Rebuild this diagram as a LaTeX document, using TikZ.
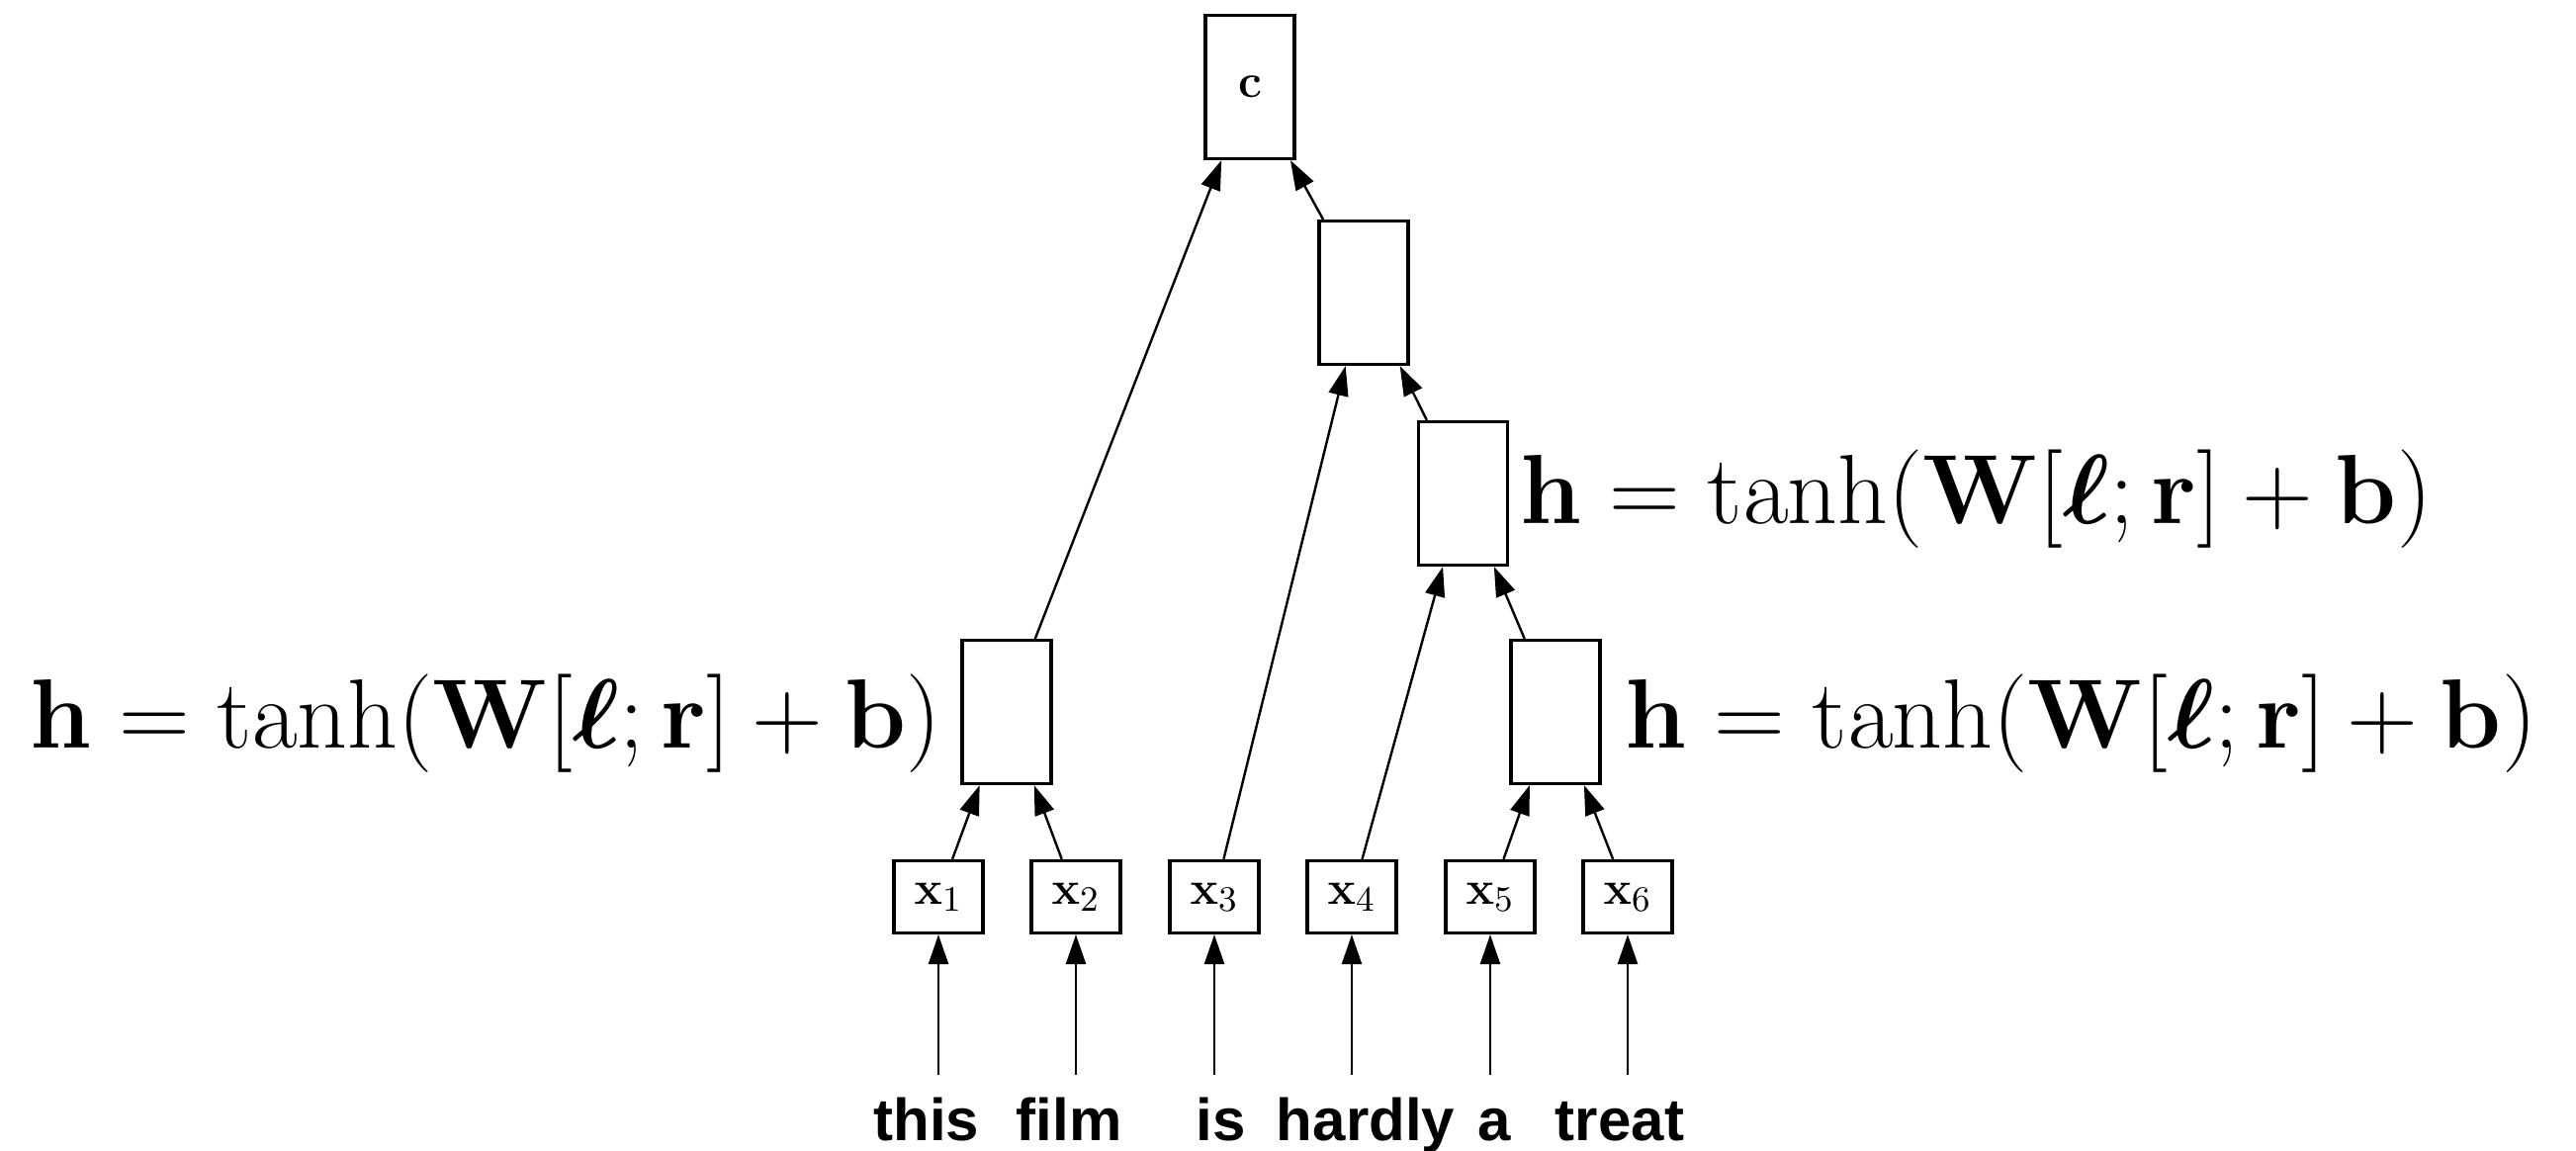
\documentclass[tikz,border=0pt]{standalone}
\usepackage{amsmath,bm}
\usepackage[no-math]{fontspec}
\newfontfamily\wordfont{Liberation Sans}
\usetikzlibrary{arrows.meta}
\DeclareMathSizes{13}{13}{9.5}{7}
\tikzset{
  hbox/.style={draw, line width=0.8pt, minimum width=22.5pt, minimum height=36.25pt, inner sep=0pt, font=\fontsize{13}{15}\selectfont},
  xbox/.style={draw, line width=0.8pt, minimum width=22.5pt, minimum height=18.25pt, inner sep=0pt, font=\fontsize{13}{15}\selectfont},
  conn/.style={line width=0.6pt, -{Triangle[length=7.5pt,width=5pt]}},
  word/.style={anchor=base, inner sep=0pt, font=\wordfont\bfseries\fontsize{15}{18}\selectfont},
  formula/.style={inner sep=0pt, font=\fontsize{24.5}{29}\selectfont}
}
\begin{document}
\begin{tikzpicture}[x=0.25pt,y=-0.25pt]
\useasboundingbox (0,0) rectangle (2605,1164);
% composition boxes
\node[hbox] (c) at (1264,88) {$\mathbf{c}$};
\node[hbox] (h3) at (1379,296) {};
\node[hbox] (h2) at (1479.5,499) {};
\node[hbox] (h1) at (1018,720) {};
\node[hbox] (h4) at (1573,720) {};
% input boxes
\node[xbox] (x1) at (949,907) {$\mathbf{x}_1$};
\node[xbox] (x2) at (1088,907) {$\mathbf{x}_2$};
\node[xbox] (x3) at (1228,907) {$\mathbf{x}_3$};
\node[xbox] (x4) at (1367,907) {$\mathbf{x}_4$};
\node[xbox] (x5) at (1507,907) {$\mathbf{x}_5$};
\node[xbox] (x6) at (1646,907) {$\mathbf{x}_6$};
% words
\node[word] (w1) at (937,1154) {this};
\node[word] (w2) at (1081,1154) {film};
\node[word] (w3) at (1235,1154) {is};
\node[word] (w4) at (1381,1154) {hardly};
\node[word] (w5) at (1511,1154) {a};
\node[word] (w6) at (1638,1154) {treat};
\coordinate (t1) at (949,1087);
\coordinate (t2) at (1088,1087);
\coordinate (t3) at (1228,1087);
\coordinate (t4) at (1367,1087);
\coordinate (t5) at (1507,1087);
\coordinate (t6) at (1646,1087);
% formulas
\node[formula, anchor=base east] (f1) at (953,757) {$\mathbf{h} = \tanh(\mathbf{W}[\bm{\ell};\mathbf{r}] + \mathbf{b})$};
\node[formula, anchor=base west] (f2) at (1537,530) {$\mathbf{h} = \tanh(\mathbf{W}[\bm{\ell};\mathbf{r}] + \mathbf{b})$};
\node[formula, anchor=base west] (f4) at (1643,757) {$\mathbf{h} = \tanh(\mathbf{W}[\bm{\ell};\mathbf{r}] + \mathbf{b})$};
% connectors
\draw[conn] (t1) -- (x1);
\draw[conn] (t2) -- (x2);
\draw[conn] (t3) -- (x3);
\draw[conn] (t4) -- (x4);
\draw[conn] (t5) -- (x5);
\draw[conn] (t6) -- (x6);
\draw[conn] (x1) -- (h1);
\draw[conn] (x2) -- (h1);
\draw[conn] (x5) -- (h4);
\draw[conn] (x6) -- (h4);
\draw[conn] (x4) -- (h2);
\draw[conn] (h4) -- (h2);
\draw[conn] (x3) -- (h3);
\draw[conn] (h2) -- (h3);
\draw[conn] (h1) -- (c);
\draw[conn] (h3) -- (c);
\end{tikzpicture}
\end{document}
